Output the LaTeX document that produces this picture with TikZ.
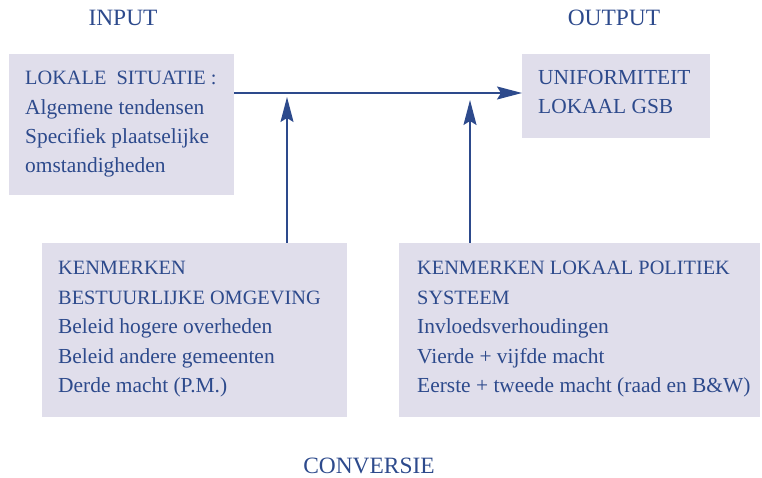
\documentclass[tikz,border=0pt]{standalone}
\usepackage{fontspec}
\setmainfont{Liberation Serif}
\usetikzlibrary{arrows.meta,calc}
\definecolor{txtblue}{HTML}{2D4A8C}
\definecolor{boxfill}{HTML}{E0DEEB}
\newcommand{\capsz}{\fontsize{20.4}{29.5}\selectfont}
\tikzset{
  boxbg/.style={fill=boxfill, draw=none, inner sep=0pt, anchor=north west},
  boxtxt/.style={anchor=base west, inner sep=0pt, align=left, text=txtblue,
     font=\fontsize{21.5}{29.5}\selectfont},
  title/.style={anchor=base, inner sep=0pt, text=txtblue, font=\fontsize{23.5}{25}\selectfont},
  conn/.style={draw=txtblue, line width=1.5bp, -{Stealth[length=25bp,width=13bp,inset=4bp]}}
}
\begin{document}
\begin{tikzpicture}[x=1bp,y=-1bp]
\useasboundingbox (0,0) rectangle (762,478);
% boxes
\node[boxbg, minimum width=225bp, minimum height=141bp] (lok) at (9,54) {};
\node[boxbg, minimum width=188bp, minimum height=84bp] (out) at (522,54) {};
\node[boxbg, minimum width=305bp, minimum height=174bp] (bo) at (42,243) {};
\node[boxbg, minimum width=361bp, minimum height=174bp] (ps) at (399,243) {};
% texts (anchor = baseline of last line)
\node[boxtxt] (lokt) at (25,173) {{\capsz LOKALE\ \ SITUATIE :}\\Algemene tendensen\\Specifiek plaatselijke\\omstandigheden};
\node[boxtxt] (outt) at (538,114) {UNIFORMITEIT\\LOKAAL GSB};
\node[boxtxt] (bot) at (58,392.5) {{\capsz KENMERKEN}\\{\capsz BESTUURLIJKE OMGEVING}\\Beleid hogere overheden\\Beleid andere gemeenten\\Derde macht (P.M.)};
\node[boxtxt] (pst) at (417,392.5) {{\capsz KENMERKEN LOKAAL POLITIEK}\\{\capsz SYSTEEM}\\Invloedsverhoudingen\\Vierde + vijfde macht\\Eerste + tweede macht (raad en B\&W)};
% titles
\node[title] (input) at (123,26) {INPUT};
\node[title] (output) at (614,26) {OUTPUT};
\node[title] (conv) at (369,473) {CONVERSIE};
% connectors
\coordinate (hs) at ($(lok.north east)+(0,39)$);
\coordinate (v1s) at ($(bo.north west)+(245,0)$);
\coordinate (v1e) at ($(bo.north west)+(245,-146)$);
\coordinate (v2s) at ($(ps.north west)+(71,0)$);
\coordinate (v2e) at ($(ps.north west)+(71,-143)$);
\draw[conn] (hs) -- (hs -| out.west);
\draw[conn] (v1s) -- (v1e);
\draw[conn] (v2s) -- (v2e);
\end{tikzpicture}
\end{document}
